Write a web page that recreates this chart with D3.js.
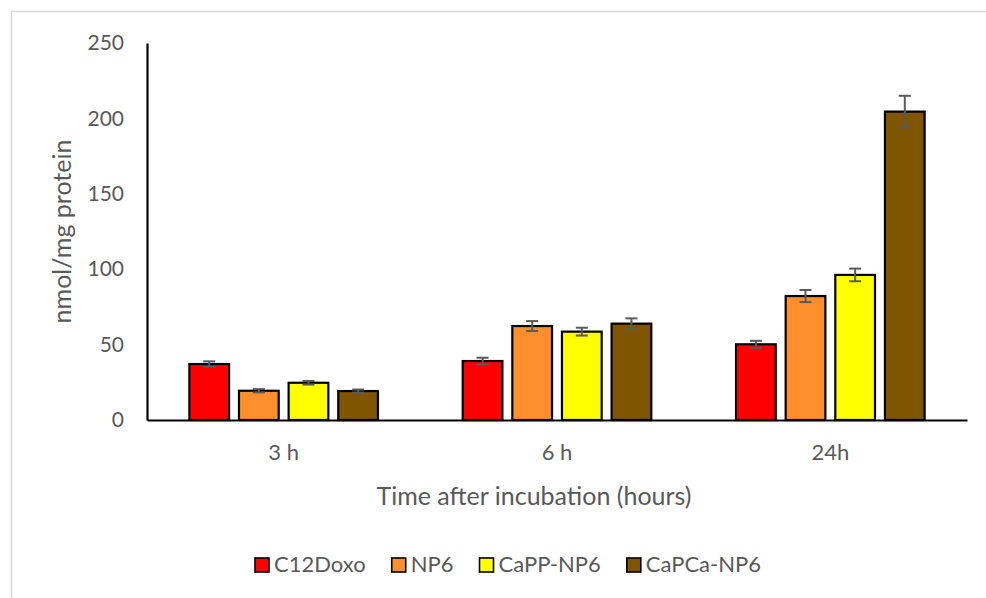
<!DOCTYPE html>
<html>
<head>
<meta charset="utf-8">
<script src="https://cdn.jsdelivr.net/npm/d3@7"></script>
<style>
  html, body { margin: 0; padding: 0; background: #ffffff; }
  svg { display: block; font-family: Lato, "Open Sans", sans-serif; }
</style>
</head>
<body>
<svg id="chart" width="986" height="598"></svg>
<script>
// Cellular uptake (nmol/mg protein) at each incubation time
const categories = ["3 h", "6 h", "24h"];
const seriesNames = ["C12Doxo", "NP6", "CaPP-NP6", "CaPCa-NP6"];
const seriesColors = ["#ff0000", "#ff8f2d", "#ffff00", "#7f5500"];

const c12DoxoValues = [37.1, 39.1, 50.2];
const np6Values     = [19.4, 62.3, 82.2];
const capPPValues   = [24.7, 58.6, 96.2];
const capCaValues   = [19.2, 63.9, 204.5];

const c12DoxoErrors = [1.8, 2.2, 2.3];
const np6Errors     = [1.1, 3.3, 4.0];
const capPPErrors   = [1.2, 2.6, 4.2];
const capCaErrors   = [1.0, 3.5, 10.5];

const yTicks = [0, 50, 100, 150, 200, 250];

const yTitle = "nmol/mg protein";
const xTitle = "Time after incubation (hours)";

// assemble rows for drawing
const seriesValues = [c12DoxoValues, np6Values, capPPValues, capCaValues];
const seriesErrors = [c12DoxoErrors, np6Errors, capPPErrors, capCaErrors];
const rows = [];
categories.forEach((cat, ci) => {
  seriesNames.forEach((name, si) => {
    rows.push({ cat, name, color: seriesColors[si], value: seriesValues[si][ci], err: seriesErrors[si][ci] });
  });
});

const svg = d3.select("#chart");
const textColor = "#595959";

const plot = { left: 147, right: 967, top: 43, bottom: 420 };

// outer chart frame (light grey)
svg.append("path")
  .attr("d", "M11.5,598V11.5H986")
  .attr("fill", "none")
  .attr("stroke", "#d9d9d9")
  .attr("stroke-width", 1.5);

const x0 = d3.scaleBand()
  .domain(categories)
  .range([plot.left, plot.right])
  .paddingInner(0.31)
  .paddingOuter(0.155);

const x1 = d3.scaleBand()
  .domain(seriesNames)
  .range([0, x0.bandwidth()])
  .paddingInner(0.2)
  .paddingOuter(0);

const y = d3.scaleLinear()
  .domain([0, 250])
  .range([plot.bottom, plot.top]);

// bars
const bars = svg.append("g");
bars.selectAll("rect")
  .data(rows)
  .join("rect")
  .attr("x", d => x0(d.cat) + x1(d.name))
  .attr("y", d => y(d.value))
  .attr("width", x1.bandwidth())
  .attr("height", d => y(0) - y(d.value))
  .attr("fill", d => d.color)
  .attr("stroke", "#000000")
  .attr("stroke-width", 2.2);

// error bars
const errG = svg.append("g")
  .attr("stroke", "#5a5a5a")
  .attr("stroke-width", 2);
const capHalf = 6;
rows.forEach(d => {
  const cx = x0(d.cat) + x1(d.name) + x1.bandwidth() / 2;
  const yHi = y(d.value + d.err);
  const yLo = y(d.value - d.err);
  errG.append("line").attr("x1", cx).attr("x2", cx).attr("y1", yHi).attr("y2", yLo);
  errG.append("line").attr("x1", cx - capHalf).attr("x2", cx + capHalf).attr("y1", yHi).attr("y2", yHi);
  errG.append("line").attr("x1", cx - capHalf).attr("x2", cx + capHalf).attr("y1", yLo).attr("y2", yLo);
});

// y axis
const yAxis = svg.append("g")
  .attr("transform", `translate(${plot.left},0)`)
  .call(d3.axisLeft(y).tickValues(yTicks).tickSize(0).tickSizeOuter(0).tickPadding(23));
yAxis.select(".domain").attr("stroke", "#000000").attr("stroke-width", 2.2);
yAxis.selectAll("text")
  .attr("fill", textColor)
  .style("font-size", "21px")
  .style("font-family", "Lato, sans-serif");

// x axis
const xAxis = svg.append("g")
  .attr("transform", `translate(0,${plot.bottom})`)
  .call(d3.axisBottom(x0).tickSize(0).tickSizeOuter(0));
xAxis.select(".domain").attr("stroke", "#000000").attr("stroke-width", 2.2);
xAxis.selectAll("text")
  .attr("y", 40)
  .attr("dy", 0)
  .attr("fill", textColor)
  .style("font-size", "22px")
  .style("font-family", "Lato, sans-serif");

// axis titles
svg.append("text")
  .attr("transform", `translate(71,${(plot.top + plot.bottom) / 2}) rotate(-90)`)
  .attr("text-anchor", "middle")
  .attr("fill", textColor)
  .style("font-size", "25px")
  .text(yTitle);

svg.append("text")
  .attr("x", 534)
  .attr("y", 505)
  .attr("text-anchor", "middle")
  .attr("fill", textColor)
  .style("font-size", "25px")
  .text(xTitle);

// legend
const legend = svg.append("g");
const items = legend.selectAll("g")
  .data(seriesNames)
  .join("g");
items.append("rect")
  .attr("width", 14)
  .attr("height", 14)
  .attr("y", -14)
  .attr("fill", (d, i) => seriesColors[i])
  .attr("stroke", "#000000")
  .attr("stroke-width", 1.6);
items.append("text")
  .attr("x", 19)
  .attr("y", 0)
  .attr("fill", textColor)
  .style("font-size", "22px")
  .text(d => d);

let cursor = 0;
items.each(function () {
  const g = d3.select(this);
  const w = g.select("text").node().getComputedTextLength();
  g.attr("transform", `translate(${cursor},0)`);
  cursor += 19 + w + 26;
});
const legendWidth = cursor - 26;
legend.attr("transform", `translate(${508 - legendWidth / 2},572)`);
</script>
</body>
</html>
